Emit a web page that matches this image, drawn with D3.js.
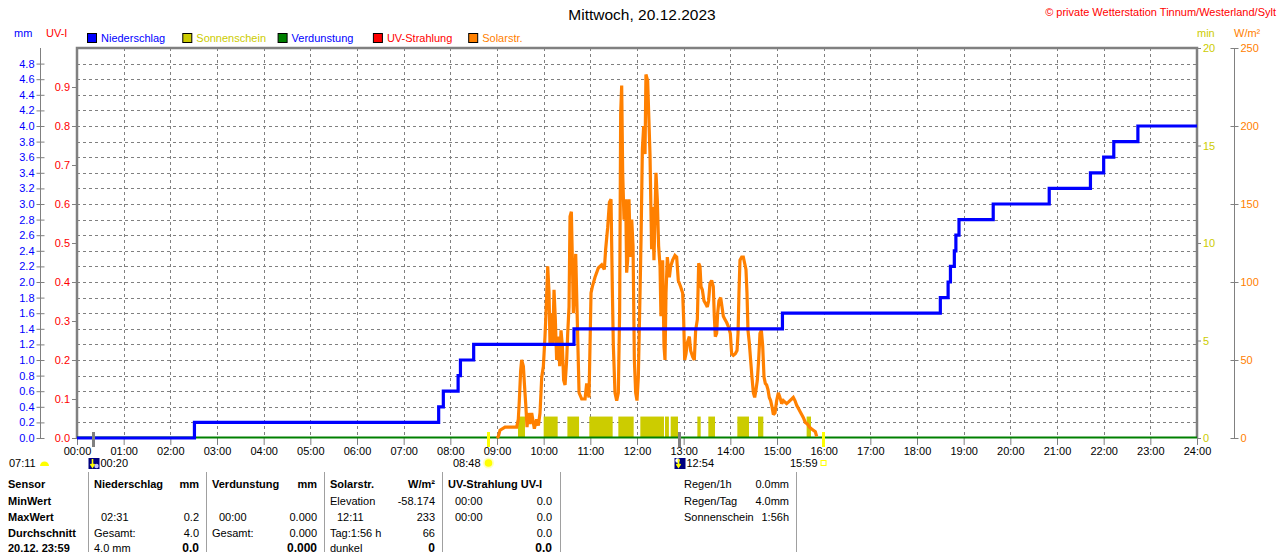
<!DOCTYPE html>
<html>
<head>
<meta charset="utf-8">
<title>Wetterstation Tinnum 20.12.2023</title>
<script src="https://d3js.org/d3.v7.min.js"></script>
<style>
  body { margin: 0; background: #fff; }
  svg text { font-family: "Liberation Sans", Arial, sans-serif; font-size: 11px; }
</style>
</head>
<body>
<div id="chart"></div>
<script>
// Niederschlag (Summe, mm) - Zeitpunkt jeder Stufe
var rainTimes = ["00:00","02:31","07:45","07:51","08:10","08:13","08:30","10:39","15:07","18:30","18:40","18:43","18:48","18:50","18:54","19:38","20:50","21:43","22:00","22:13","22:44","24:00"];
var rainTotals = [0.0,0.2,0.4,0.6,0.8,1.0,1.2,1.4,1.6,1.8,2.0,2.2,2.4,2.6,2.8,3.0,3.2,3.4,3.6,3.8,4.0,4.0];

// Solarstrahlung W/m2 (Minuten seit Mitternacht)
var solarMin = [540,541.7,543.9,550.3,565.3,567.4,568.7,570.4,571.7,573.9,575.2,576.9,578.6,580.3,582.5,584.6,588,591,593.2,595.3,
  597.5,599.6,601.7,603,605.2,606.9,608.2,610.3,611.6,613.3,615,616.7,618.9,620.6,622.3,624,625.7,627.5,629.6,630.9,
  632.6,633.9,635.6,636.9,638.2,639.5,641.2,642.9,645.5,648.9,653.2,655.3,658.3,660.9,662.6,666,670.3,674.6,678,679.7,
  682.3,684.5,686.6,688.3,689.6,691.7,693.9,696,697.7,699,700.3,701.6,703.3,705.5,706.7,708,709.7,711.5,713.2,714.9,
  716.6,718.3,720,721.7,723.9,725.2,726.9,728.6,730.3,731.5,733.7,736.7,738.8,740.1,741.8,744.4,746.1,747.8,749.6,750.8,
  753,754.7,756,757.3,759,761.6,763.3,765.8,768.8,771,773.1,776.1,778.7,780,781.3,783,784.7,787.3,789,791.6,
  793.7,795.4,797.6,799.3,801,802.3,804,806.1,808.3,810.4,812.1,813.8,816,818.1,819.4,820.7,822.4,823.7,825.4,827.6,
  829.3,831,833.1,835.3,837.8,840,841.7,843.8,846.4,848.6,849.9,851.1,852.4,854.6,856.7,858.4,860.1,861.4,862.7,864.4,
  866.1,867.8,869.6,871.3,873,874.7,876.4,878.1,879.9,881.6,883.3,885,886.7,888.4,890.1,891.8,893.6,895.3,897.4,899.6,
  901.7,903.8,906,908.1,910.3,912.4,914.6,916.7,918.9,921,923.1,925.3,927.4,929.6,931.7,933.9,936.4,939,941.6,944.1,
  946.7,949.3,951];
var solarW = [0,1,5,7,7,12,24,43,50,46,35,22,7,16,9,16,6,12,8,16,
  39,46,65,80,110,93,59,80,59,95,76,50,65,46,69,59,37,34,50,67,
  84,142,145,114,80,95,118,82,29,25,25,35,26,93,97,103,109,111,108,121,
  135,151,153,95,59,29,24,29,82,208,226,170,140,153,106,114,153,116,140,123,
  50,29,24,39,93,127,185,200,182,233,229,182,121,148,114,170,153,123,110,78,
  114,59,50,93,116,103,110,114,117,116,101,97,93,76,50,54,61,65,56,52,
  50,69,76,112,110,97,95,88,86,84,88,99,101,97,78,65,67,80,88,90,
  84,78,76,74,71,67,54,53,54,56,67,93,114,116,116,112,108,93,69,61,
  50,39,29,26,31,37,50,67,69,59,39,35,34,31,26,24,20,15,16,24,
  29,26,22,24,23,22,23,24,25,26,24,21,19,17,15,13,10,9,7,6,
  5,4,1];

// Sonnenschein (min) - Intervalle
var sunStart = [567,600,630.5,658.7,696,724.3,756,763.3,797.6,811.7,849,875.6,938.1];
var sunEnd   = [576,618,645.5,688.7,715.7,754.7,761,772.7,801.9,820.3,864,882.4,943.7];
var sunValue = 1.1;

// Verdunstung: ganztags 0
var evapTimes = ["00:00","24:00"];
var evapValues = [0, 0];

// Achsen
var hourLabels = ["00:00","01:00","02:00","03:00","04:00","05:00","06:00","07:00","08:00","09:00","10:00","11:00","12:00",
  "13:00","14:00","15:00","16:00","17:00","18:00","19:00","20:00","21:00","22:00","23:00","24:00"];
var mmTicks = [0.0,0.2,0.4,0.6,0.8,1.0,1.2,1.4,1.6,1.8,2.0,2.2,2.4,2.6,2.8,3.0,3.2,3.4,3.6,3.8,4.0,4.2,4.4,4.6,4.8];
var uvTicks = [0.0,0.1,0.2,0.3,0.4,0.5,0.6,0.7,0.8,0.9];
var minTicks = [0,5,10,15,20];
var solTicks = [0,50,100,150,200,250];

var legendNames = ["Niederschlag","Sonnenschein","Verdunstung","UV-Strahlung","Solarstr."];
var legendFill = ["#0000ff","#cccc00","#008000","#ff0000","#ff8000"];
var legendText = ["#0000ff","#cccc00","#0000ff","#ff0000","#ff8000"];

// Ereignisse unter der Zeitachse
var eventTimes = ["00:20","08:48","12:54","15:59"];
var eventKinds = ["moon","sun","moon2","set"];

// Tabelle
var tableRows = ["Sensor","MinWert","MaxWert","Durchschnitt","20.12. 23:59"];
var tableCols = [
  { head: "Niederschlag", unit: "mm", cells: [["",""],["02:31","0.2"],["Gesamt:","4.0"],["4.0 mm","0.0"]] },
  { head: "Verdunstung", unit: "mm", cells: [["",""],["00:00","0.000"],["Gesamt:","0.000"],["","0.000"]] },
  { head: "Solarstr.", unit: "W/m²", cells: [["Elevation","-58.174"],["12:11","233"],["Tag:1:56 h","66"],["dunkel","0"]] },
  { head: "UV-Strahlung UV-I", unit: "", cells: [["00:00","0.0"],["00:00","0.0"],["","0.0"],["","0.0"]] }
];
var infoLabels = ["Regen/1h","Regen/Tag","Sonnenschein"];
var infoValues = ["0.0mm","4.0mm","1:56h"];

function toMin(s) { var p = s.split(":"); return +p[0] * 60 + +p[1]; }

var W = 1280, H = 552;
var plotL = 77, plotR = 1197, plotT = 48, plotB = 438;

var svg = d3.select("#chart").append("svg")
  .attr("width", W).attr("height", H)
  .style("display", "block");
svg.append("rect").attr("width", W).attr("height", H).attr("fill", "#fff");

var x = d3.scaleLinear().domain([0, 1440]).range([plotL, plotR]);
var yMm = d3.scaleLinear().domain([0, 5]).range([plotB, plotT]);
var yUv = d3.scaleLinear().domain([0, 1]).range([plotB, plotT]);
var yMin = d3.scaleLinear().domain([0, 20]).range([plotB, plotT]);
var ySol = d3.scaleLinear().domain([0, 250]).range([plotB, plotT]);

// title
svg.append("text").attr("x", 642).attr("y", 20).attr("text-anchor", "middle")
  .style("font-size", "15.5px").text("Mittwoch, 20.12.2023");
svg.append("text").attr("x", 1276).attr("y", 16).attr("text-anchor", "end")
  .attr("fill", "#ff0000").text("© private Wetterstation Tinnum/Westerland/Sylt");

// axis units
svg.append("text").attr("x", 14).attr("y", 37).attr("fill", "#0000ff").text("mm");
svg.append("text").attr("x", 46).attr("y", 37).attr("fill", "#ff0000").text("UV-I");
svg.append("text").attr("x", 1197).attr("y", 37).attr("fill", "#cccc00").text("min");
svg.append("text").attr("x", 1234).attr("y", 37).attr("fill", "#ff8000").text("W/m²");

// legend
var lg = svg.append("g").selectAll("g").data(legendNames).enter().append("g")
  .attr("transform", function (d, i) { return "translate(" + (87 + i * 95.3) + ",33)"; });
lg.append("rect").attr("width", 9).attr("height", 9).attr("x", 0.5).attr("y", 0.5)
  .attr("fill", function (d, i) { return legendFill[i]; }).attr("stroke", "#000");
lg.append("text").attr("x", 14).attr("y", 9)
  .attr("fill", function (d, i) { return legendText[i]; }).text(function (d) { return d; });

// grid
var grid = svg.append("g").attr("stroke", "#808080").attr("stroke-dasharray", "3,3");
grid.selectAll("line.h").data(mmTicks.slice(1)).enter().append("line")
  .attr("x1", plotL).attr("x2", plotR)
  .attr("y1", function (d) { return Math.round(yMm(d)) + 0.5; })
  .attr("y2", function (d) { return Math.round(yMm(d)) + 0.5; });
grid.selectAll("line.v").data(d3.range(1, 24)).enter().append("line")
  .attr("y1", plotT).attr("y2", plotB)
  .attr("x1", function (d) { return Math.round(x(d * 60)) + 0.5; })
  .attr("x2", function (d) { return Math.round(x(d * 60)) + 0.5; });

function styleAxis(g, color) {
  g.selectAll("text").attr("fill", color).style("font-family", "Liberation Sans, Arial, sans-serif").style("font-size", "11px");
  g.selectAll("line").attr("stroke", "#808080");
  g.select(".domain").attr("stroke", "#808080");
}

// mm axis
var gMm = svg.append("g").attr("transform", "translate(40.5,0)")
  .call(d3.axisLeft(yMm).tickValues(mmTicks).tickSizeInner(4).tickSizeOuter(0).tickPadding(2)
    .tickFormat(d3.format(".1f")));
gMm.selectAll(".tick line").attr("x1", 4);
gMm.select(".domain").attr("d", "M0," + plotT + "V" + plotB);
styleAxis(gMm, "#0000ff");

// UV axis
var gUv = svg.append("g").attr("transform", "translate(" + plotL + ",0)")
  .call(d3.axisLeft(yUv).tickValues(uvTicks).tickSize(5).tickPadding(2).tickFormat(d3.format(".1f")));
gUv.select(".domain").remove();
styleAxis(gUv, "#ff0000");

// min axis
var gMin = svg.append("g").attr("transform", "translate(" + plotR + ",0)")
  .call(d3.axisRight(yMin).tickValues(minTicks).tickSize(4).tickPadding(2));
gMin.select(".domain").remove();
styleAxis(gMin, "#cccc00");

// W/m2 axis
var gSol = svg.append("g").attr("transform", "translate(1234.5,0)")
  .call(d3.axisRight(ySol).tickValues(solTicks).tickSizeInner(4).tickSizeOuter(0).tickPadding(2));
gSol.selectAll(".tick line").attr("x1", -4);
gSol.select(".domain").attr("d", "M0," + plotT + "V" + plotB);
styleAxis(gSol, "#ff8000");

// time axis
var gX = svg.append("g").attr("transform", "translate(0," + plotB + ")")
  .call(d3.axisBottom(x).tickValues(d3.range(0, 1441, 60)).tickSize(7).tickPadding(2)
    .tickFormat(function (d, i) { return hourLabels[i]; }));
gX.select(".domain").remove();
styleAxis(gX, "#000");

// sunshine bars
svg.append("g").selectAll("rect").data(sunStart).enter().append("rect")
  .attr("x", function (d) { return x(d); })
  .attr("width", function (d, i) { return x(sunEnd[i]) - x(d); })
  .attr("y", yMin(sunValue)).attr("height", yMin(0) - yMin(sunValue))
  .attr("fill", "#cccc00");

// plot frame
svg.append("path")
  .attr("d", "M" + plotL + "," + plotB + "V" + plotT + "H" + plotR + "V" + plotB)
  .attr("fill", "none").attr("stroke", "#808080").attr("stroke-width", 2.5);

// Verdunstung line at 0
svg.append("path")
  .datum(evapTimes.map(function (t, i) { return [toMin(t), evapValues[i]]; }))
  .attr("fill", "none").attr("stroke", "#008000").attr("stroke-width", 2)
  .attr("d", d3.line().x(function (d) { return x(d[0]); }).y(function (d) { return yMm(d[1]) - 0.5; }));

// solar line
svg.append("path")
  .datum(solarMin.map(function (m, i) { return [m, solarW[i]]; }))
  .attr("fill", "none").attr("stroke", "#ff8000").attr("stroke-width", 3.2)
  .attr("stroke-linejoin", "miter").attr("stroke-miterlimit", 2)
  .attr("d", d3.line().x(function (d) { return x(d[0]); }).y(function (d) { return ySol(d[1]); }));

// rain step line
svg.append("path")
  .datum(rainTimes.map(function (t, i) { return [toMin(t), rainTotals[i]]; }))
  .attr("fill", "none").attr("stroke", "#0000ff").attr("stroke-width", 3.2)
  .attr("d", d3.line().curve(d3.curveStepAfter)
    .x(function (d) { return x(d[0]); }).y(function (d) { return yMm(d[1]); }));

// events under the axis
var ev = svg.append("g");
eventTimes.forEach(function (t, i) {
  var ex = Math.round(x(toMin(t))) + 0.5;
  var kind = eventKinds[i];
  var isSun = kind === "sun" || kind === "set";
  ev.append("line").attr("x1", ex).attr("x2", ex).attr("y1", 432).attr("y2", 447)
    .attr("stroke", isSun ? "#ffff00" : "#808080").attr("stroke-width", 3);
  if (kind === "moon" || kind === "moon2") {
    ev.append("rect").attr("x", ex - 5).attr("y", 458).attr("width", 11).attr("height", 11).attr("fill", "#000080");
    if (kind === "moon2") ev.append("circle").attr("cx", ex - 2).attr("cy", 460.5).attr("r", 2.2).attr("fill", "#fff");
    else ev.append("circle").attr("cx", ex + 3).attr("cy", 466).attr("r", 2.2).attr("fill", "#c0c0ff");
    ev.append("path").attr("d", "M" + (ex - 1) + "," + 459 + "v8 M" + (ex - 3) + "," + 464 + "l2,3 l2,-3")
      .attr("stroke", "#ffff00").attr("stroke-width", 1.6).attr("fill", "none");
    ev.append("text").attr("x", ex + 7).attr("y", 467).text(t);
  } else if (kind === "sun") {
    ev.append("circle").attr("cx", ex).attr("cy", 463).attr("r", 5.5).attr("fill", "#ffffc0");
    ev.append("circle").attr("cx", ex).attr("cy", 463).attr("r", 3.8).attr("fill", "#ffff00");
    ev.append("text").attr("x", ex - 8).attr("y", 467).attr("text-anchor", "end").text(t);
  } else {
    ev.append("rect").attr("x", ex - 2.5).attr("y", 460.5).attr("width", 5).attr("height", 5)
      .attr("fill", "none").attr("stroke", "#ffff00");
    ev.append("text").attr("x", ex - 6).attr("y", 467).attr("text-anchor", "end").text(t);
  }
});
// Dämmerung
ev.append("text").attr("x", 9).attr("y", 467).text("07:11");
ev.append("path").attr("d", "M40,466 a4.5,4.5 0 0 1 9,0 z").attr("fill", "#ffff00");

// table
var rowY = [488, 504.5, 520.5, 536.5, 552];
var tb = svg.append("g");
[88, 206, 324, 442, 560, 796].forEach(function (sx) {
  tb.append("line").attr("x1", sx + 0.5).attr("x2", sx + 0.5).attr("y1", 472).attr("y2", 552)
    .attr("stroke", "#a0a0a0");
});
tableRows.forEach(function (r, i) {
  tb.append("text").attr("x", 8).attr("y", rowY[i]).style("font-weight", "bold").text(r);
});
tableCols.forEach(function (c, j) {
  var cx = 94 + j * 118, rx = 199 + j * 118;
  if (j === 3) rx = 552;
  tb.append("text").attr("x", cx).attr("y", rowY[0]).style("font-weight", "bold").text(c.head);
  if (c.unit) tb.append("text").attr("x", rx).attr("y", rowY[0]).attr("text-anchor", "end")
    .style("font-weight", "bold").text(c.unit);
  c.cells.forEach(function (cell, k) {
    var last = k === 3;
    var indent = /^\d\d:\d\d$/.test(cell[0]) ? 7 : 0;
    if (cell[0]) tb.append("text").attr("x", cx + indent).attr("y", rowY[k + 1]).text(cell[0]);
    if (cell[1]) tb.append("text").attr("x", rx).attr("y", rowY[k + 1]).attr("text-anchor", "end")
      .style("font-weight", last ? "bold" : "normal").style("font-size", last ? "12px" : "11px").text(cell[1]);
  });
});
infoLabels.forEach(function (l, i) {
  tb.append("text").attr("x", 684).attr("y", rowY[i]).text(l);
  tb.append("text").attr("x", 789).attr("y", rowY[i]).attr("text-anchor", "end").text(infoValues[i]);
});
</script>
</body>
</html>
